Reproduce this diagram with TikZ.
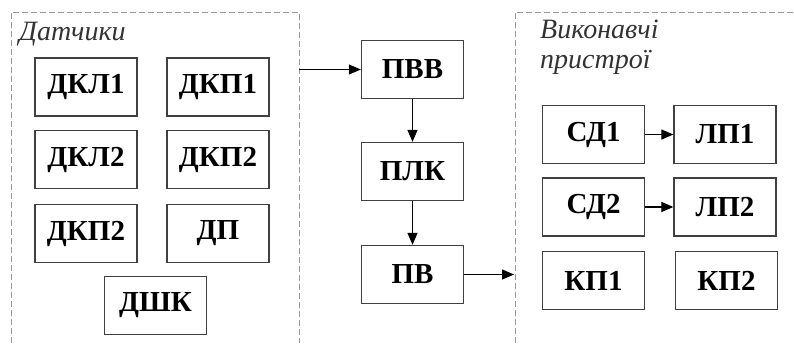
\documentclass[tikz,border=0pt]{standalone}
\usepackage{fontspec}
\setmainfont{Liberation Serif}
\usetikzlibrary{arrows.meta}
\begin{document}
\begin{tikzpicture}[x=1bp,y=-1bp,
  blk/.style={draw=black!75,line width=1.3bp,minimum width=102bp,minimum height=58bp,inner sep=0pt,
    font=\fontsize{29bp}{32bp}\selectfont\bfseries},
  grp/.style={draw=black!40,line width=1bp,dash pattern=on 6bp off 3bp},
  arr/.style={draw=black,line width=1.2bp,-{Triangle[length=12bp,width=10bp]}},
  lbl/.style={font=\fontsize{28bp}{32bp}\selectfont\itshape,text=black!80,inner sep=0pt,anchor=base west}]
\useasboundingbox (0,0) rectangle (794,343);
% groups
\draw[grp] (11,343) -- (11,12) -- (299,12) -- (299,343);
\draw[grp] (515,343) -- (515,12) -- (794,12);
\node[lbl] (lsens) at (19,40) {Датчики};
\node[lbl] (lact1) at (540,38) {Виконавчі};
\node[lbl] (lact2) at (540,68) {пристрої};
% sensors
\node[blk] (dkl1) at (86,87) {ДКЛ1};
\node[blk] (dkp1) at (218,87) {ДКП1};
\node[blk] (dkl2) at (86,159.5) {ДКЛ2};
\node[blk] (dkp2) at (218,159.5) {ДКП2};
\node[blk] (dkp2b) at (86,233.5) {ДКП2};
\node[blk] (dp) at (218,233.5) {ДП};
\node[blk] (dshk) at (155.5,305.5) {ДШК};
% middle
\node[blk] (pvv) at (412.5,69.5) {ПВВ};
\node[blk] (plk) at (412.5,171.5) {ПЛК};
\node[blk] (pv) at (412.5,274.5) {ПВ};
% actuators
\node[blk] (sd1) at (593.5,134.5) {СД1};
\node[blk] (lp1) at (725,134.5) {ЛП1};
\node[blk] (sd2) at (593.5,207) {СД2};
\node[blk] (lp2) at (725,207) {ЛП2};
\node[blk] (kp1) at (593.5,280.5) {КП1};
\node[blk] (kp2) at (726.5,280.5) {КП2};
% connectors
\coordinate (sout) at (299,69.5);
\coordinate (ain) at (514,274.5);
\draw[arr] (sout) -- (pvv);
\draw[arr] (pvv) -- (plk);
\draw[arr] (plk) -- (pv);
\draw[arr] (pv) -- (ain);
\draw[arr] (sd1) -- (lp1);
\draw[arr] (sd2) -- (lp2);
\end{tikzpicture}
\end{document}
